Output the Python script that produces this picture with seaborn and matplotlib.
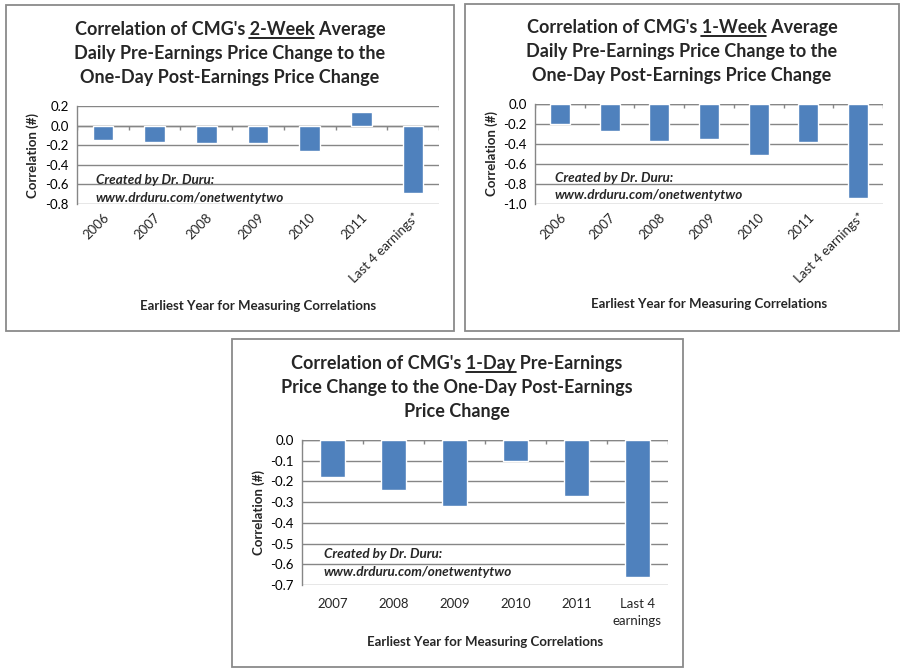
import numpy as np
import pandas as pd
import matplotlib
matplotlib.use("Agg")
import matplotlib.pyplot as plt
import seaborn as sns
from matplotlib.patches import Rectangle
from matplotlib.lines import Line2D
from matplotlib.transforms import ScaledTranslation

# ---------------- data ----------------
cats_2wk = ["2006", "2007", "2008", "2009", "2010", "2011", "Last 4 earnings*"]
vals_2wk = [-0.15, -0.17, -0.18, -0.18, -0.26, 0.14, -0.69]
yticks_2wk = [0.2, 0.0, -0.2, -0.4, -0.6, -0.8]

cats_1wk = ["2006", "2007", "2008", "2009", "2010", "2011", "Last 4 earnings*"]
vals_1wk = [-0.20, -0.27, -0.37, -0.35, -0.51, -0.38, -0.94]
yticks_1wk = [0.0, -0.2, -0.4, -0.6, -0.8, -1.0]

cats_1day = ["2007", "2008", "2009", "2010", "2011", "Last 4\nearnings"]
vals_1day = [-0.18, -0.24, -0.32, -0.10, -0.27, -0.66]
yticks_1day = [0.0, -0.1, -0.2, -0.3, -0.4, -0.5, -0.6, -0.7]

title_2wk = ["Correlation of CMG's 2-Week Average",
             "Daily Pre-Earnings Price Change to the",
             "One-Day Post-Earnings Price Change"]
title_1wk = ["Correlation of CMG's 1-Week Average",
             "Daily Pre-Earnings Price Change to the",
             "One-Day Post-Earnings Price Change"]
title_1day = ["Correlation of CMG's 1-Day Pre-Earnings",
              "Price Change to the One-Day Post-Earnings",
              "Price Change"]
xlabel_txt = "Earliest Year for Measuring Correlations"
ylabel_txt = "Correlation (#)"
credit_txt = ["Created by Dr. Duru:", "www.drduru.com/onetwentytwo"]

# ---------------- style ----------------
sns.set_style("white")
FONT = ["Lato", "DejaVu Sans"]
plt.rcParams["font.family"] = FONT
plt.rcParams["axes.unicode_minus"] = False

W, H = 903, 671
BAR = "#4F81BD"
GRID = "#868686"
BORDER = "#8A8A8A"
TITLE_FS = 13
TICK_FS = 9.5

fig = plt.figure(figsize=(W / 100, H / 100), dpi=100)
fig.patch.set_facecolor("white")


def fx(x):
    return x / W


def fy(y):
    return 1 - y / H


def make_panel(box, plot, cats, vals, yticks, titles, underline, title_cx,
               title_base, xlab_base, ylab_x, credit_x, credit_base, rotated):
    # border
    x0, y0, x1, y1 = box
    fig.add_artist(Rectangle((fx(x0), fy(y1)), (x1 - x0) / W, (y1 - y0) / H,
                             transform=fig.transFigure, fill=False,
                             ec=BORDER, lw=1.3))
    px0, py0, px1, py1 = plot
    ax = fig.add_axes([fx(px0), fy(py1), (px1 - px0) / W, (py1 - py0) / H])
    df = pd.DataFrame({"cat": cats, "val": vals})
    sns.barplot(data=df, x="cat", y="val", color=BAR, saturation=1,
                width=0.4, ax=ax, zorder=3)
    n = len(cats)
    ymin, ymax = min(yticks), max(yticks)
    ax.set_xlim(-0.5, n - 0.5)
    ax.set_ylim(ymin, ymax)
    ax.set_axisbelow(True)
    ax.set_yticks(yticks)
    ax.set_yticklabels([f"{v:.1f}" for v in yticks], fontsize=TICK_FS)
    ax.yaxis.grid(True, color=GRID, lw=1.0)
    ax.tick_params(axis="y", length=4, color=GRID, width=1.0, pad=2,
                   labelcolor="black")
    for s in ["top", "right", "bottom"]:
        ax.spines[s].set_visible(False)
    ax.spines["left"].set_color(GRID)
    ax.spines["left"].set_linewidth(1.0)
    # zero line with category boundary ticks
    ax.axhline(0, color=GRID, lw=1.0, zorder=2)
    tick_len = 4.0 / (py1 - py0) * (ymax - ymin)
    ax.vlines(np.arange(n + 1) - 0.5, 0, -tick_len, color=GRID, lw=1.0,
              zorder=2)
    ax.set_xticks(range(n))
    if rotated:
        ax.set_xticklabels(cats, rotation=45, ha="right", va="center",
                           rotation_mode="anchor", fontsize=TICK_FS)
        ax.tick_params(axis="x", length=0, pad=8)
        off = ScaledTranslation(4 / 100, 0, fig.dpi_scale_trans)
        for lbl in ax.get_xticklabels():
            lbl.set_transform(lbl.get_transform() + off)
    else:
        ax.set_xticklabels(cats, fontsize=TICK_FS, linespacing=1.55)
        ax.tick_params(axis="x", length=0, pad=9)
    ax.set_xlabel("")
    ax.set_ylabel("")
    # axis labels
    fig.text(fx((px0 + px1) / 2), fy(xlab_base), xlabel_txt, ha="center",
             va="baseline", fontsize=9.5, fontweight="bold")
    fig.text(fx(ylab_x), fy((py0 + py1) / 2), ylabel_txt, ha="center",
             va="center", rotation=90, fontsize=9.5, fontweight="bold")
    # credit
    for t, b in zip(credit_txt, credit_base):
        fig.text(fx(credit_x), fy(b), t, ha="left", va="baseline",
                 fontsize=9.7, fontweight="bold", fontstyle="italic")
    # title
    objs = []
    for t, b in zip(titles, title_base):
        objs.append(fig.text(fx(title_cx), fy(b), t, ha="center",
                             va="baseline", fontsize=TITLE_FS,
                             fontweight="bold"))
    return ax, objs, underline


panels = []
panels.append(make_panel((6, 5, 454, 331), (77, 106, 439, 204), cats_2wk,
                         vals_2wk, yticks_2wk, title_2wk,
                         ("Correlation of CMG's ", "2-Week"), 230,
                         [35, 59, 83], 310, 33, 96, [184, 202], True))
panels.append(make_panel((465, 4, 899, 331), (535, 104, 883, 204), cats_1wk,
                         vals_1wk, yticks_1wk, title_1wk,
                         ("Correlation of CMG's ", "1-Week"), 682,
                         [33, 57, 81], 308, 492, 555, [182, 199], True))
panels.append(make_panel((232, 339, 683, 667), (302, 440, 668, 585),
                         cats_1day, vals_1day, yticks_1day, title_1day,
                         ("Correlation of CMG's ", "1-Day"), 457,
                         [369, 393, 417], 646, 259, 324, [558, 576], False))

# underline the key word in each title's first line
fig.canvas.draw()
r = fig.canvas.get_renderer()
for ax, objs, (prefix, word) in panels:
    t = objs[0]
    bb = t.get_window_extent(r)
    tmp = fig.text(0, 0, prefix + word, fontsize=TITLE_FS, fontweight="bold")
    w1 = tmp.get_window_extent(r).width
    tmp.set_text(word)
    w2 = tmp.get_window_extent(r).width
    tmp.remove()
    xe = bb.x0 + w1
    xs = xe - w2
    yb = t.get_transform().transform(t.get_position())[1] - 2.5
    fig.add_artist(Line2D([xs / fig.bbox.width, xe / fig.bbox.width],
                          [yb / fig.bbox.height, yb / fig.bbox.height],
                          transform=fig.transFigure, color="black", lw=1.2))

fig.savefig("out.png", dpi=100)
